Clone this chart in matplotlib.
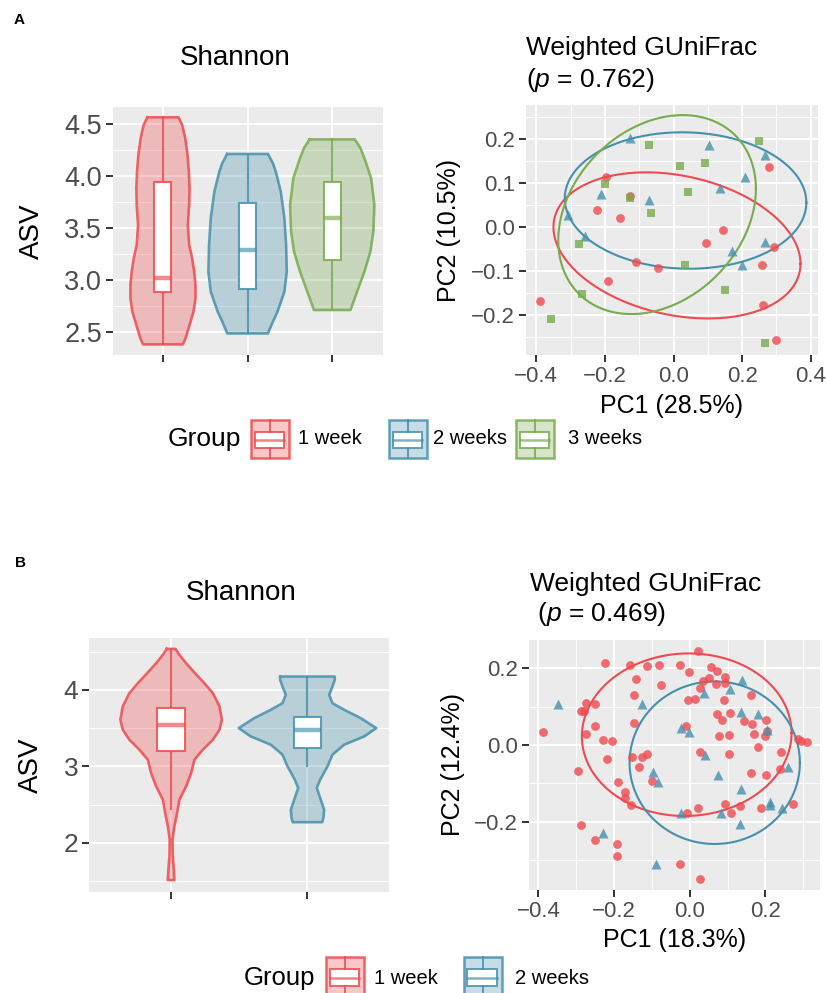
import numpy as np
import matplotlib
matplotlib.use('Agg')
import matplotlib.pyplot as plt
from matplotlib.patches import Rectangle
from matplotlib.colors import to_rgba

plt.rcParams['font.family'] = ['Liberation Sans', 'DejaVu Sans']
plt.rcParams['mathtext.fontset'] = 'custom'
plt.rcParams['mathtext.it'] = 'Liberation Sans:italic'
plt.rcParams['mathtext.rm'] = 'Liberation Sans'

RED = '#EF4A4F'
BLUE = '#4690AC'
GREEN = '#78AB4E'
BG = '#EBEBEB'

groups_a = ['1 week', '2 weeks', '3 weeks']
groups_b = ['1 week', '2 weeks']
colors = {'1 week': RED, '2 weeks': BLUE, '3 weeks': GREEN}
markers = {'1 week': 'o', '2 weeks': '^', '3 weeks': 's'}
msize = {'1 week': 40, '2 weeks': 52, '3 weeks': 30}

# ---- panel A, Shannon violins: outline profile (y, half width) and box stats
viol_a_y = {
    '1 week': [4.561, 4.49, 4.362, 4.202, 4.041, 3.882, 3.721, 3.529, 3.337, 3.209,
               3.080, 2.952, 2.824, 2.695, 2.567, 2.440, 2.382],
    '2 weeks': [4.209, 4.122, 4.041, 3.849, 3.593, 3.337, 3.080, 2.888, 2.695, 2.599, 2.487],
    '3 weeks': [4.349, 4.266, 4.170, 3.978, 3.721, 3.465, 3.272, 3.080, 2.888, 2.712],
}
viol_a_hw = {
    '1 week': [0.184, 0.227, 0.263, 0.290, 0.306, 0.314, 0.310, 0.294, 0.310, 0.345,
               0.369, 0.384, 0.384, 0.361, 0.314, 0.267, 0.235],
    '2 weeks': [0.241, 0.298, 0.333, 0.392, 0.435, 0.455, 0.463, 0.435, 0.353, 0.298, 0.240],
    '3 weeks': [0.267, 0.333, 0.380, 0.459, 0.498, 0.486, 0.451, 0.380, 0.294, 0.216],
}
# min, q1, median, q3, max
box_a = {
    '1 week': [2.382, 2.888, 3.016, 3.939, 4.561],
    '2 weeks': [2.487, 2.913, 3.288, 3.737, 4.209],
    '3 weeks': [2.712, 3.192, 3.593, 3.939, 4.349],
}

# ---- panel B, Shannon violins
viol_b_y = {
    '1 week': [4.535, 4.457, 4.348, 4.217, 4.087, 3.957, 3.783, 3.609, 3.478, 3.348, 3.217,
               3.087, 2.913, 2.739, 2.565, 2.391, 2.217, 2.043, 1.826, 1.652, 1.513],
    '2 weeks': [4.174, 4.13, 4.043, 3.935, 3.826, 3.739, 3.630, 3.5, 3.391, 3.283, 3.152,
                3.0, 2.826, 2.717, 2.587, 2.435, 2.326, 2.270],
}
viol_b_hw = {
    '1 week': [0.032, 0.061, 0.110, 0.176, 0.244, 0.306, 0.355, 0.372, 0.355, 0.306, 0.232,
               0.171, 0.147, 0.110, 0.061, 0.044, 0.024, 0.010, 0.012, 0.020, 0.024],
    '2 weeks': [0.200, 0.200, 0.183, 0.159, 0.183, 0.269, 0.391, 0.504, 0.416, 0.269, 0.183,
                0.147, 0.093, 0.068, 0.093, 0.122, 0.117, 0.108],
}
box_b = {
    '1 week': [2.443, 3.196, 3.539, 3.761, 4.535],
    '2 weeks': [3.009, 3.239, 3.470, 3.639, 4.174],
}

# ---- panel A, PCoA points
pc_a = {
    '1 week': [(-0.197, 0.113), (-0.222, 0.039), (-0.155, 0.020), (-0.128, 0.071),
               (-0.389, -0.168), (-0.192, -0.124), (-0.108, -0.079), (-0.044, -0.094),
               (0.096, -0.037), (0.143, -0.008), (0.277, 0.137), (0.293, -0.045),
               (0.259, -0.086), (0.260, -0.177), (0.299, -0.256)],
    '2 weeks': [(-0.128, 0.202), (0.104, 0.185), (0.266, 0.164), (0.209, 0.113),
                (0.136, 0.089), (-0.210, 0.075), (-0.072, 0.062), (-0.309, 0.028),
                (-0.258, -0.021), (0.170, -0.055), (0.266, -0.035), (0.199, -0.087)],
    '3 weeks': [(-0.072, 0.185), (0.018, 0.139), (0.092, 0.145), (0.248, 0.195),
                (-0.200, 0.098), (-0.126, 0.065), (-0.066, 0.032), (0.041, 0.080),
                (-0.275, -0.039), (-0.268, -0.153), (-0.356, -0.209), (0.034, -0.087),
                (0.150, -0.143), (0.267, -0.264)],
}
# ellipse: centre x, centre y, sd x, sd y, correlation
ell_a = {
    '1 week': (0.010, -0.042, 0.360, 0.166, -0.25),
    '2 weeks': (0.035, 0.060, 0.352, 0.155, -0.03),
    '3 weeks': (-0.048, 0.028, 0.288, 0.226, 0.26),
}

# ---- panel B, PCoA points
pc_b = {
    '1 week': [(0.021, 0.245), (-0.225, 0.215), (-0.159, 0.209), (-0.112, 0.206),
               (-0.082, 0.209), (-0.027, 0.208), (-0.001, 0.190), (0.056, 0.203),
               (0.072, 0.192), (0.094, 0.177), (0.050, 0.174), (0.034, 0.166),
               (0.070, 0.159), (0.094, 0.161), (0.028, 0.148), (-0.141, 0.171),
               (-0.077, 0.156), (-0.146, 0.130), (0.162, 0.130), (-0.005, 0.117),
               (0.015, 0.120), (0.091, 0.117), (-0.275, 0.110), (-0.249, 0.107),
               (-0.288, 0.088), (-0.279, 0.090), (0.072, 0.081), (0.107, 0.084),
               (0.084, 0.066), (0.144, 0.063), (0.164, 0.055), (0.201, 0.065),
               (-0.148, 0.057), (-0.249, 0.049), (-0.011, 0.049), (-0.389, 0.033),
               (-0.275, 0.028), (0.169, 0.030), (0.204, 0.037), (0.200, 0.024),
               (0.077, 0.023), (0.105, 0.026), (-0.229, 0.013), (-0.205, 0.010),
               (0.287, 0.016), (0.293, 0.011), (0.311, 0.008), (0.180, -0.005),
               (0.026, -0.018), (0.103, -0.023), (0.242, -0.019), (-0.152, -0.030),
               (-0.125, -0.032), (-0.112, -0.023), (-0.218, -0.037), (-0.134, -0.056),
               (-0.295, -0.068), (0.163, -0.072), (0.202, -0.077), (0.239, -0.063),
               (-0.190, -0.097), (-0.099, -0.094), (-0.170, -0.122), (-0.172, -0.139),
               (-0.154, -0.157), (-0.007, -0.177), (0.022, -0.163), (0.092, -0.154),
               (0.109, -0.178), (0.134, -0.158), (0.189, -0.164), (0.273, -0.155),
               (-0.288, -0.209), (-0.249, -0.248), (-0.191, -0.259), (-0.191, -0.290),
               (-0.025, -0.309), (0.028, -0.350)],
    '2 weeks': [(-0.347, 0.107), (-0.125, 0.107), (-0.022, 0.044), (-0.001, 0.035),
                (0.037, 0.137), (0.107, 0.145), (0.138, 0.170), (0.136, 0.087),
                (0.180, 0.081), (0.204, 0.039), (0.040, -0.026), (0.259, -0.057),
                (-0.097, -0.070), (-0.084, -0.096), (0.074, -0.078), (0.136, -0.115),
                (0.213, -0.148), (0.213, -0.157), (0.244, -0.165), (-0.023, -0.177),
                (0.083, -0.177), (0.134, -0.206), (-0.228, -0.229), (-0.090, -0.311)],
}
ell_b = {
    '1 week': (-0.008, 0.027, 0.277, 0.212, 0.02),
    '2 weeks': (0.066, -0.046, 0.225, 0.212, 0.0),
}


def gg_style(ax, xmaj, xmin, ymaj, ymin, fs):
    ax.set_facecolor(BG)
    for s in ax.spines.values():
        s.set_visible(False)
    ax.set_xticks(xmaj)
    ax.set_xticks(xmin, minor=True)
    ax.set_yticks(ymaj)
    ax.set_yticks(ymin, minor=True)
    ax.grid(which='major', color='white', lw=1.4)
    ax.grid(which='minor', color='white', lw=0.7)
    ax.set_axisbelow(True)
    ax.tick_params(which='major', length=5, width=1.4, color='#333333',
                   labelsize=fs, labelcolor='#4D4D4D', pad=3)
    ax.tick_params(which='minor', length=0)


def violin(ax, pos, ys, hws, box, color):
    ys = np.array(ys)
    hws = np.array(hws)
    ax.fill_betweenx(ys, pos - hws, pos + hws, color=color, alpha=0.3, lw=0, zorder=2)
    xs = np.concatenate([pos - hws, (pos + hws)[::-1], [pos - hws[0]]])
    yy = np.concatenate([ys, ys[::-1], [ys[0]]])
    ax.plot(xs, yy, color=color, lw=1.9, alpha=0.85, zorder=3, solid_joinstyle='round')
    lo, q1, med, q3, hi = box
    ax.plot([pos, pos], [q3, hi], color=color, lw=1.5, alpha=0.85, zorder=3)
    ax.plot([pos, pos], [lo, q1], color=color, lw=1.5, alpha=0.85, zorder=3)
    ax.add_patch(Rectangle((pos - 0.1, q1), 0.2, q3 - q1, facecolor='white',
                           edgecolor=to_rgba(color, 0.85), lw=1.5, zorder=4))
    ax.plot([pos - 0.1, pos + 0.1], [med, med], color=color, lw=3.2, alpha=0.65,
            zorder=5, solid_capstyle='butt')


def pcoa(ax, pts, ells, groups):
    t = np.linspace(0, 2 * np.pi, 300)
    for g in groups:
        cx, cy, sx, sy, r = ells[g]
        ex = cx + sx * np.cos(t)
        ey = cy + sy * (r * np.cos(t) + np.sqrt(1 - r * r) * np.sin(t))
        ax.plot(ex, ey, color=colors[g], lw=1.5, zorder=3)
    for g in groups:
        arr = np.array(pts[g])
        ax.scatter(arr[:, 0], arr[:, 1], marker=markers[g], s=msize[g],
                   color=colors[g], alpha=0.8, lw=0, zorder=4)


W, H = 826, 993
fig = plt.figure(figsize=(W / 100, H / 100), dpi=100)


def add_ax(l, t, r, b):
    return fig.add_axes([l / W, (H - b) / H, (r - l) / W, (b - t) / H])


# ---- A violin
ax1 = add_ax(113, 107, 383, 355)
gg_style(ax1, [1, 2, 3], [], [2.5, 3.0, 3.5, 4.0, 4.5], [2.75, 3.25, 3.75, 4.25], 19.5)
ax1.set_yticklabels(['2.5', '3.0', '3.5', '4.0', '4.5'])
ax1.set_xticklabels([])
for i, g in enumerate(groups_a):
    violin(ax1, i + 1, viol_a_y[g], viol_a_hw[g], box_a[g], colors[g])
ax1.set_xlim(0.41, 3.6)
ax1.set_ylim(2.28, 4.66)
ax1.set_ylabel('ASV', fontsize=20)
ax1.yaxis.set_label_coords(-0.252, 0.5)

# ---- A PCoA
ax2 = add_ax(526, 105, 818, 355)
gg_style(ax2, [-0.4, -0.2, 0.0, 0.2, 0.4], [-0.3, -0.1, 0.1, 0.3],
         [-0.2, -0.1, 0.0, 0.1, 0.2], [-0.25, -0.15, -0.05, 0.05, 0.15, 0.25], 16)
ax2.set_xticklabels(['\u22120.4', '\u22120.2', '0.0', '0.2', '0.4'])
ax2.set_yticklabels(['\u22120.2', '\u22120.1', '0.0', '0.1', '0.2'])
pcoa(ax2, pc_a, ell_a, groups_a)
ax2.set_xlim(-0.43, 0.421)
ax2.set_ylim(-0.291, 0.277)
ax2.set_xlabel('PC1 (28.5%)', fontsize=18)
ax2.xaxis.set_label_coords(0.5, -0.158)
ax2.set_ylabel('PC2 (10.5%)', fontsize=18)
ax2.yaxis.set_label_coords(-0.222, 0.5)

# ---- B violin
ax3 = add_ax(89.3, 638.3, 389.3, 891.7)
gg_style(ax3, [1, 2], [], [2, 3, 4], [1.5, 2.5, 3.5, 4.5], 19)
ax3.set_xticklabels([])
for i, g in enumerate(groups_b):
    violin(ax3, i + 1, viol_b_y[g], viol_b_hw[g], box_b[g], colors[g])
ax3.set_xlim(0.4, 2.6)
ax3.set_ylim(1.361, 4.674)
ax3.set_ylabel('ASV', fontsize=20)
ax3.yaxis.set_label_coords(-0.151, 0.5)

# ---- B PCoA
ax4 = add_ax(528.7, 640, 820.3, 890)
gg_style(ax4, [-0.4, -0.2, 0.0, 0.2], [-0.3, -0.1, 0.1, 0.3],
         [-0.2, 0.0, 0.2], [-0.3, -0.1, 0.1], 16)
ax4.set_xticklabels(['\u22120.4', '\u22120.2', '0.0', '0.2'])
ax4.set_yticklabels(['\u22120.2', '0.0', '0.2'])
pcoa(ax4, pc_b, ell_b, groups_b)
ax4.set_xlim(-0.4255, 0.345)
ax4.set_ylim(-0.378, 0.274)
ax4.set_xlabel('PC1 (18.3%)', fontsize=18)
ax4.xaxis.set_label_coords(0.5, -0.152)
ax4.set_ylabel('PC2 (12.4%)', fontsize=18)
ax4.yaxis.set_label_coords(-0.218, 0.5)

# ---- overlay in pixel coordinates for titles, panel tags and legends
ov = fig.add_axes([0, 0, 1, 1], facecolor='none')
ov.set_xlim(0, W)
ov.set_ylim(H, 0)
ov.axis('off')

ov.text(14, 20.5, 'A', fontsize=11, fontweight='bold', va='center')
ov.text(15, 563, 'B', fontsize=11, fontweight='bold', va='center')
ov.text(235, 58, 'Shannon', fontsize=20, ha='center', va='center')
ov.text(241.5, 593, 'Shannon', fontsize=20, ha='center', va='center')
ov.text(526, 48, 'Weighted GUniFrac', fontsize=19, ha='left', va='center')
ov.text(526, 80, '($p$ = 0.762)', fontsize=19, ha='left', va='center')
ov.text(529.5, 584, 'Weighted GUniFrac', fontsize=19, ha='left', va='center')
ov.text(529.5, 614, ' ($p$ = 0.469)', fontsize=19, ha='left', va='center')


def legend_key(x, yc, color, w=38, h=38):
    y = yc - h / 2
    ov.add_patch(Rectangle((x, y), w, h, facecolor=to_rgba(color, 0.3),
                           edgecolor=to_rgba(color, 0.85), lw=1.8, clip_on=False))
    bx0, bx1 = x + 0.1 * w, x + 0.87 * w
    by0, by1 = y + 0.32 * h, y + 0.76 * h
    xm = x + w / 2
    ov.plot([xm, xm], [y, by0], color=color, lw=1.4, alpha=0.85, clip_on=False)
    ov.plot([xm, xm], [by1, y + h], color=color, lw=1.4, alpha=0.85, clip_on=False)
    ov.add_patch(Rectangle((bx0, by0), bx1 - bx0, by1 - by0, facecolor='white',
                           edgecolor=to_rgba(color, 0.85), lw=1.4, clip_on=False))
    ov.plot([bx0, bx1], [(by0 + by1) / 2] * 2, color=color, lw=1.8, alpha=0.7,
            clip_on=False)


# legend A
ov.text(168, 439, 'Group', fontsize=19, ha='left', va='center')
for g, kx, tx in zip(groups_a, [251, 389, 516], [298, 433, 568]):
    legend_key(kx, 438.5, colors[g])
    ov.text(tx, 439, g, fontsize=14.5, ha='left', va='center')

# legend B
ov.text(244, 978, 'Group', fontsize=18.5, ha='left', va='center')
for g, kx, tx in zip(groups_b, [326, 463.5], [374, 515]):
    legend_key(kx, 976, colors[g])
    ov.text(tx, 978, g, fontsize=14.5, ha='left', va='center')

fig.savefig('out.png', dpi=100)
